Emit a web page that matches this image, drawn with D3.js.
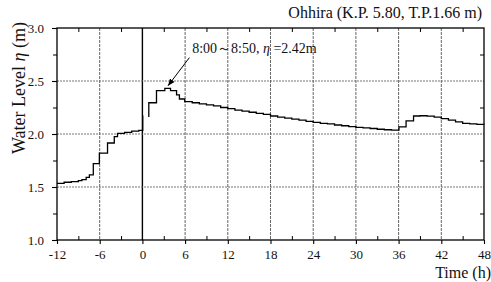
<!DOCTYPE html>
<html lang="en">
<head>
    <meta charset="UTF-8">
    <title>Ohhira water level</title>
    <script src="https://cdn.jsdelivr.net/npm/d3@7"></script>
    <style>
        body { margin: 0; background: #fff; }
        svg text { font-family: "Liberation Serif", "DejaVu Serif", serif; fill: #111; }
    </style>
</head>
<body>
    <svg id="svg"></svg>

    <script>

        var WIDTH = 491;
        var HEIGHT = 282;

        // step record, part before the gap (time in h, level in m)
        var timesA  = [-12, -11, -10, -9, -8.5, -7.9, -7.45, -6.9, -6.05, -4.9, -3.95, -3.5, -2.5, -1.5, -0.5, 0.05, 0.05];
        var levelsA = [1.535, 1.545, 1.55, 1.56, 1.57, 1.59, 1.615, 1.72, 1.82, 1.915, 1.975, 2.005, 2.015, 2.028, 2.035, 2.04, 2.175];

        // part after the gap
        var timesB  = [0.9, 0.9, 1.98, 3.15, 3.95, 4.8, 5.2, 5.95, 7, 8, 9, 10, 11, 12, 13, 14, 15, 16, 17, 18,
                       19, 20, 21, 22, 23, 24, 25, 26, 27, 28, 29, 30, 31, 32, 33, 34, 35, 36.05, 37.05, 38.1,
                       39, 40, 41, 42, 43, 44, 45, 46, 47, 48];
        var levelsB = [2.16, 2.295, 2.41, 2.43, 2.41, 2.37, 2.33, 2.305, 2.295, 2.285, 2.275, 2.265, 2.25, 2.24, 2.225, 2.215, 2.205, 2.195, 2.185, 2.17,
                       2.16, 2.15, 2.14, 2.13, 2.12, 2.11, 2.1, 2.095, 2.085, 2.078, 2.07, 2.063, 2.058, 2.052, 2.045, 2.04, 2.037, 2.068, 2.123, 2.17,
                       2.172, 2.168, 2.16, 2.145, 2.13, 2.115, 2.1, 2.095, 2.09, 2.087];

        var xTicks = [-12, -6, 0, 6, 12, 18, 24, 30, 36, 42, 48];
        var xMinor = [-9, -3, 3, 9, 15, 21, 27, 33, 39, 45];
        var yTicks = [1.0, 1.5, 2.0, 2.5, 3.0];
        var yMinor = [1.25, 1.75, 2.25, 2.75];

        var xScale = d3.scaleLinear().domain([-12, 48]).range([57, 484]);
        var yScale = d3.scaleLinear().domain([1, 3]).range([240, 28]);

        var svg = d3.select('#svg')
                    .attr("width", WIDTH)
                    .attr("height", HEIGHT);

        // grid
        svg.selectAll("line.vgrid")
            .data(xTicks.slice(1, -1))
            .enter()
            .append("line")
            .attr("class", "vgrid")
            .attr("x1", function(d){ return xScale(d); })
            .attr("x2", function(d){ return xScale(d); })
            .attr("y1", yScale(3))
            .attr("y2", yScale(1))
            .attr("stroke", function(d){ return d === 0 ? "#000" : "#555"; })
            .attr("stroke-width", function(d){ return d === 0 ? 1.4 : 0.9; })
            .attr("stroke-dasharray", function(d){ return d === 0 ? null : "3,1"; });

        svg.selectAll("line.hgrid")
            .data(yTicks.slice(1, -1))
            .enter()
            .append("line")
            .attr("class", "hgrid")
            .attr("x1", xScale(-12))
            .attr("x2", xScale(48))
            .attr("y1", function(d){ return yScale(d); })
            .attr("y2", function(d){ return yScale(d); })
            .attr("stroke", "#666")
            .attr("stroke-width", 0.9)
            .attr("stroke-dasharray", "2,1");

        // axes (plain hyphen for negative hours, as in the original)
        var xAxis = d3.axisBottom(xScale).tickValues(xTicks).tickSizeInner(4).tickSizeOuter(0).tickPadding(6)
                      .tickFormat(function(d){ return String(d); });
        var yAxis = d3.axisLeft(yScale).tickValues(yTicks).tickSizeInner(5).tickSizeOuter(0).tickPadding(8)
                      .tickFormat(d3.format(".1f"));

        var gx = svg.append("g")
            .attr("class", "x axis")
            .attr("transform", "translate(0," + yScale(1) + ")")
            .call(xAxis);
        var gy = svg.append("g")
            .attr("class", "y axis")
            .attr("transform", "translate(" + xScale(-12) + ",0)")
            .call(yAxis);

        [gx, gy].forEach(function(g){
            g.select(".domain").remove();
            g.selectAll("text").attr("font-size", "13px").attr("fill", "#111")
             .attr("font-family", "'Liberation Serif', serif");
            g.selectAll("line").attr("stroke", "#000").attr("stroke-width", 1.1);
        });

        // minor ticks, inward
        var minorAxes = [
            [d3.axisBottom(xScale).tickValues(xMinor).tickSize(-4), "translate(0," + yScale(1) + ")"],
            [d3.axisTop(xScale).tickValues(xMinor).tickSize(-4), "translate(0," + yScale(3) + ")"],
            [d3.axisLeft(yScale).tickValues(yMinor).tickSize(4), "translate(" + xScale(-12) + ",0)"],
            [d3.axisRight(yScale).tickValues(yMinor).tickSize(-4), "translate(" + xScale(48) + ",0)"]
        ];
        minorAxes.forEach(function(m){
            var g = svg.append("g").attr("transform", m[1]).call(m[0].tickFormat(""));
            g.select(".domain").remove();
            g.selectAll("line").attr("stroke", "#000").attr("stroke-width", 1);
        });

        // frame
        svg.append("rect")
            .attr("x", xScale(-12))
            .attr("y", yScale(3))
            .attr("width", xScale(48) - xScale(-12))
            .attr("height", yScale(1) - yScale(3))
            .attr("fill", "none")
            .attr("stroke", "#000")
            .attr("stroke-width", 1.3);

        // water level record
        var line = d3.line()
                     .x(function(d){ return xScale(d[0]); })
                     .y(function(d){ return yScale(d[1]); })
                     .curve(d3.curveStepAfter);

        [d3.zip(timesA, levelsA), d3.zip(timesB, levelsB)].forEach(function(seg){
            svg.append("path")
                .datum(seg)
                .attr("d", line)
                .attr("fill", "none")
                .attr("stroke", "#000")
                .attr("stroke-width", 1.3);
        });

        // peak annotation
        svg.append("defs").append("marker")
            .attr("id", "arrow")
            .attr("viewBox", "0 0 10 10")
            .attr("refX", 10).attr("refY", 5)
            .attr("markerWidth", 7).attr("markerHeight", 7)
            .attr("orient", "auto")
            .append("path")
            .attr("d", "M0,1 L10,5 L0,9 z")
            .attr("fill", "#000");

        svg.append("line")
            .attr("x1", xScale(6.6)).attr("y1", yScale(2.72))
            .attr("x2", xScale(3.6)).attr("y2", yScale(2.455))
            .attr("stroke", "#000")
            .attr("stroke-width", 1)
            .attr("marker-end", "url(#arrow)");

        var ann = svg.append("text")
            .attr("x", xScale(7.0))
            .attr("y", yScale(2.765))
            .attr("font-size", "14px");
        ann.append("tspan").text("8:00～8:50, ");
        ann.append("tspan").attr("font-style", "italic").text("η");
        ann.append("tspan").text(" =2.42m");

        // titles
        svg.append("text")
            .attr("x", 482)
            .attr("y", 18)
            .attr("text-anchor", "end")
            .attr("font-size", "16px")
            .text("Ohhira (K.P. 5.80, T.P.1.66 m)");

        svg.append("text")
            .attr("x", 491)
            .attr("y", 278)
            .attr("text-anchor", "end")
            .attr("font-size", "16px")
            .text("Time (h)");

        var yt = svg.append("text")
            .attr("transform", "translate(25,88) rotate(-90)")
            .attr("text-anchor", "middle")
            .attr("font-size", "18px");
        yt.append("tspan").text("Water Level ");
        yt.append("tspan").attr("font-style", "italic").text("η");
        yt.append("tspan").text(" (m)");

    </script>

</body>
</html>
